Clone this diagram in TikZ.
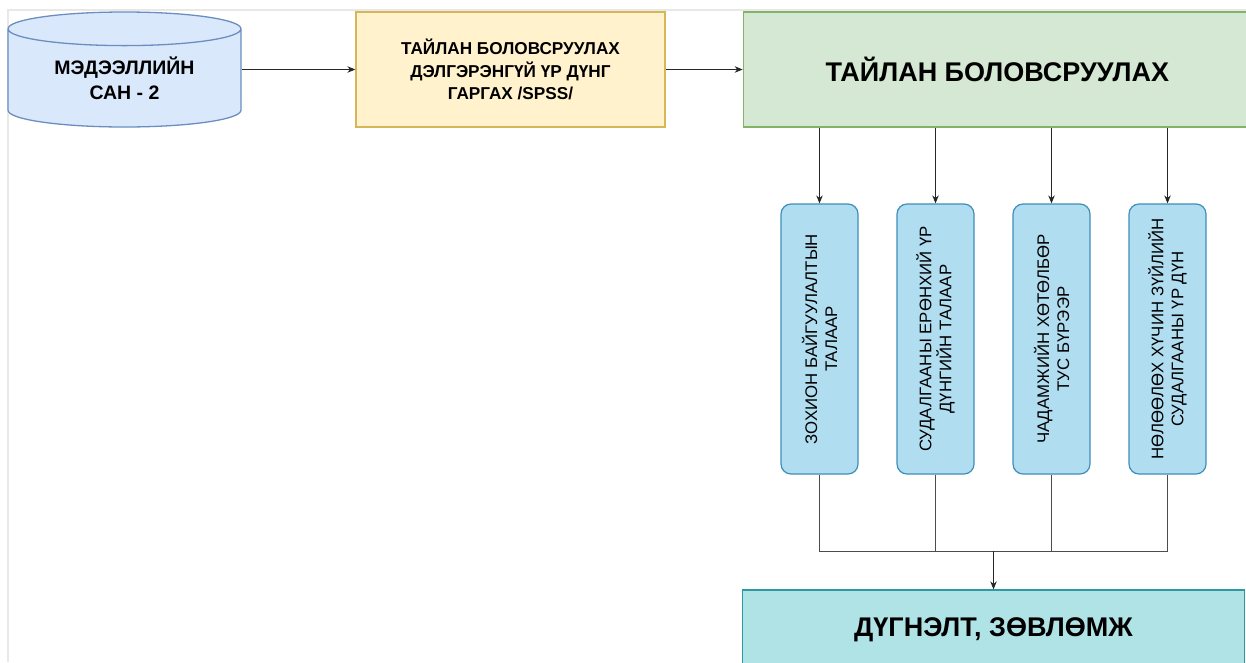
\documentclass[tikz,border=0pt]{standalone}
\usepackage{fontspec}
\setmainfont{Liberation Sans}
\usetikzlibrary{positioning,shapes.geometric,arrows.meta}
\definecolor{dbfill}{HTML}{DAE8FC}
\definecolor{dbline}{HTML}{6C8EBF}
\definecolor{spssfill}{HTML}{FFF2CC}
\definecolor{spssline}{HTML}{D6B656}
\definecolor{repfill}{HTML}{D5E8D4}
\definecolor{repline}{HTML}{82B366}
\definecolor{partfill}{HTML}{B1DDF0}
\definecolor{partline}{HTML}{3D8EB9}
\definecolor{endfill}{HTML}{B0E3E6}
\definecolor{endline}{HTML}{2E9AA0}
\definecolor{framegray}{HTML}{E8E8E8}
\tikzset{
  flow/.style={-{Stealth[length=8pt,width=6.5pt]}, line width=1pt, draw=black!85},
  link/.style={line width=1pt, draw=black!70},
  part/.style={draw=partline, fill=partfill, rounded corners=10pt, line width=1.2pt,
    minimum width=270pt, minimum height=77pt, rotate=90, align=center,
    font=\fontsize{16.8}{20}\selectfont},
}
\begin{document}
\begin{tikzpicture}[x=1pt, y=-1pt, every node/.style={align=center, inner sep=0pt}]
\useasboundingbox (0,0) rectangle (1246,662);
\draw[framegray, line width=2pt] (7.5,662) -- (7.5,9.5) -- (1246,9.5);

\node (db) [cylinder, shape border rotate=90, aspect=0.24, draw=dbline, fill=dbfill, line width=1.3pt,
  minimum width=233pt, minimum height=115pt, font=\bfseries\fontsize{19.5}{25}\selectfont,
  anchor=shape center] at (124.5,69.5) {МЭДЭЭЛЛИЙН\\САН - 2};
\node (spss) [draw=spssline, fill=spssfill, line width=1.3pt, minimum width=309pt, minimum height=115pt,
  font=\bfseries\fontsize{17.2}{22.5}\selectfont] at (510.5,69.5)
  {ТАЙЛАН БОЛОВСРУУЛАХ\\ДЭЛГЭРЭНГҮЙ ҮР ДҮНГ\\ГАРГАХ /SPSS/};
\node (rep) [draw=repline, fill=repfill, line width=1.3pt, minimum width=508pt, minimum height=115pt,
  font=\bfseries\fontsize{27}{30}\selectfont, right=77pt of spss] {ТАЙЛАН БОЛОВСРУУЛАХ};

\node (p1) [part] at (819.5,339) {ЗОХИОН БАЙГУУЛАЛТЫН\\ТАЛААР};
\node (p2) [part] at ([xshift=116pt]p1) {СУДАЛГААНЫ ЕРӨНХИЙ ҮР\\ДҮНГИЙН ТАЛААР};
\node (p3) [part] at ([xshift=116pt]p2) {ЧАДАМЖИЙН ХӨТӨЛБӨР\\ТУС БҮРЭЭР};
\node (p4) [part] at ([xshift=116pt]p3) {НӨЛӨӨЛӨХ ХҮЧИН ЗҮЙЛИЙН\\СУДАЛГААНЫ ҮР ДҮН};

\node (concl) [draw=endline, fill=endfill, line width=1.3pt, minimum width=502pt, minimum height=80pt,
  font=\bfseries\fontsize{27}{30}\selectfont] at (993.5,630) {ДҮГНЭЛТ, ЗӨВЛӨМЖ};
\coordinate (join) at (993.5,551);

\draw[flow] (db.east |- spss) -- (spss);
\draw[flow] (spss) -- (rep);
\foreach \p in {p1,p2,p3,p4}
  \draw[flow] (\p.east |- rep.south) -- (\p.east);
\draw[link] (p1.west) -- (p1.west |- join) -- (p4.west |- join) -- (p4.west);
\draw[link] (p2.west) -- (p2.west |- join);
\draw[link] (p3.west) -- (p3.west |- join);
\draw[flow] (join) -- (concl);
\end{tikzpicture}
\end{document}
